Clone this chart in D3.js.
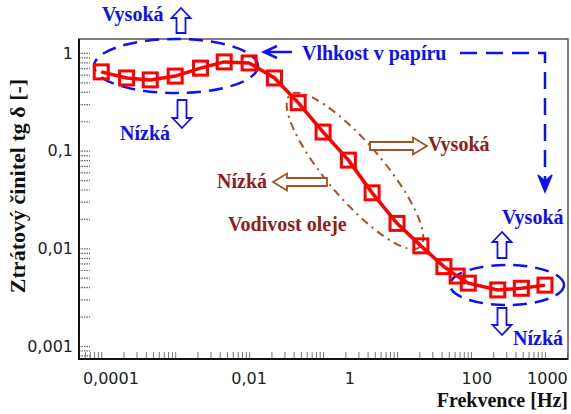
<!DOCTYPE html>
<html>
<head>
<meta charset="utf-8">
<script src="https://cdn.jsdelivr.net/npm/d3@7"></script>
<style>
  body { margin: 0; background: #fff; }
  svg { display: block; }
  .note { font-family: "Liberation Serif", "Times New Roman", serif; font-weight: bold; font-size: 20px; }
  .tick-label { font-family: "DejaVu Sans", Verdana, sans-serif; font-size: 16px; fill: #222; }
</style>
</head>
<body>
<div id="chart"></div>
<script>
// ---------------------------------------------------------------------------
// Data

// measured frequencies [Hz]
const frequency = [0.001, 0.0022, 0.0046, 0.01, 0.022, 0.046, 0.1, 0.22, 0.46, 1,
  2.2, 4.6, 10, 21, 43, 65, 92, 230, 480, 1000];

// dissipation factor tg delta [-]
const tanDelta = [0.64, 0.555, 0.53, 0.58, 0.70, 0.81, 0.79, 0.555, 0.31, 0.155,
  0.080, 0.037, 0.018, 0.0106, 0.0065, 0.0052, 0.0044, 0.00375, 0.0039, 0.0042];

// x labels as printed in the original; they do not sit on their own decade,
// so each one is anchored at the frequency it is printed under
const xTickLabels = ['0,0001', '0,01', '1', '100', '1000'];
const xTickLabelAt = [0.00135, 0.1, 2.3, 120, 1080];

const yTickValues = [1, 0.1, 0.01, 0.001];
const yTickLabels = ['1', '0,1', '0,01', '0,001'];

// ---------------------------------------------------------------------------
// Layout

const width = 571;
const height = 414;
const plot = { left: 79, right: 568, top: 39, bottom: 359 };

const blue = '#1010f5';
const brown = '#a2531f';
const darkRed = '#921c1c';

const svg = d3.select('#chart').append('svg')
  .attr('width', width)
  .attr('height', height);

const x = d3.scaleLog()
  .domain([0.0005, 2050])
  .range([plot.left, plot.right]);

const y = d3.scaleLog()
  .domain([0.000736, 1.39])
  .range([plot.bottom, plot.top]);

// ---------------------------------------------------------------------------
// Axes

// minor ticks along the bottom, pointing into the plot
svg.append('g')
  .attr('transform', `translate(0,${plot.bottom})`)
  .call(d3.axisBottom(x).tickValues(x.ticks()).tickSize(-7).tickSizeOuter(0).tickFormat(''))
  .call(g => g.select('.domain').remove())
  .call(g => g.selectAll('.tick line').attr('stroke', '#777').attr('stroke-width', 1));

// dotted ticks along the left side
svg.append('g')
  .attr('transform', `translate(${plot.left},0)`)
  .call(d3.axisLeft(y).tickValues(y.ticks()).tickSize(-11).tickSizeOuter(0).tickFormat(''))
  .call(g => g.select('.domain').remove())
  .call(g => g.selectAll('.tick line')
    .attr('stroke', '#666')
    .attr('stroke-width', 1.2)
    .attr('stroke-dasharray', '1.5,1'));

// y labels
svg.append('g')
  .attr('transform', `translate(${plot.left},0)`)
  .call(d3.axisLeft(y).tickValues(yTickValues).tickSize(0).tickPadding(6)
    .tickFormat((d, i) => yTickLabels[i]))
  .call(g => g.select('.domain').remove())
  .call(g => g.selectAll('text')
    .attr('class', 'tick-label')
    .attr('font-size', null)
    .attr('font-family', null));

// x labels
svg.append('g')
  .selectAll('text')
  .data(xTickLabels)
  .enter().append('text')
  .attr('class', 'tick-label')
  .attr('x', (d, i) => x(xTickLabelAt[i]))
  .attr('y', 384)
  .attr('text-anchor', 'middle')
  .text(d => d);

// frame
svg.append('rect')
  .attr('x', plot.left)
  .attr('y', plot.top)
  .attr('width', plot.right - plot.left)
  .attr('height', plot.bottom - plot.top)
  .attr('fill', 'none')
  .attr('stroke', '#555')
  .attr('stroke-width', 1.5);

svg.append('path')
  .attr('d', `M${plot.left},${plot.top}V${plot.bottom}H${plot.right}`)
  .attr('fill', 'none')
  .attr('stroke', '#111')
  .attr('stroke-width', 2);

// axis titles
svg.append('text')
  .attr('class', 'note')
  .attr('x', plot.right)
  .attr('y', 407)
  .attr('text-anchor', 'end')
  .attr('fill', '#111')
  .text('Frekvence [Hz]');

svg.append('text')
  .attr('class', 'note')
  .attr('transform', 'translate(25,186) rotate(-90)')
  .attr('text-anchor', 'middle')
  .attr('fill', '#111')
  .style('font-size', '22px')
  .text('Ztrátový činitel tg δ [-]');

// ---------------------------------------------------------------------------
// Annotations (drawn under the series)

const notes = svg.append('g');

// hollow block arrow, tip at (tx, ty), angle in degrees (0 = pointing right)
function blockArrow(tx, ty, angle, len, headLen, headHalf, shaftHalf, color) {
  const pts = [[0, 0], [-headLen, -headHalf], [-headLen, -shaftHalf], [-len, -shaftHalf],
    [-len, shaftHalf], [-headLen, shaftHalf], [-headLen, headHalf]];
  notes.append('path')
    .attr('d', `M${pts.join('L')}Z`)
    .attr('transform', `translate(${tx},${ty}) rotate(${angle})`)
    .attr('fill', '#fff')
    .attr('stroke', color)
    .attr('stroke-width', 1.8)
    .attr('stroke-linejoin', 'miter');
}

function note(text, tx, ty, color) {
  notes.append('text')
    .attr('class', 'note')
    .attr('x', tx)
    .attr('y', ty)
    .attr('fill', color)
    .text(text);
}

// moisture: low-frequency region
notes.append('ellipse')
  .attr('cx', 176).attr('cy', 66).attr('rx', 82).attr('ry', 27)
  .attr('fill', 'none')
  .attr('stroke', blue)
  .attr('stroke-width', 2.5)
  .attr('stroke-dasharray', '14,8');

note('Vysoká', 102, 21, blue);
blockArrow(181, 8, -90, 25, 10, 9.5, 4.5, blue);
note('Nízká', 120, 140, blue);
blockArrow(182, 128, 90, 28, 10, 9.5, 4.5, blue);

// moisture: high-frequency region
notes.append('ellipse')
  .attr('cx', 507).attr('cy', 285).attr('rx', 57).attr('ry', 20)
  .attr('fill', 'none')
  .attr('stroke', blue)
  .attr('stroke-width', 2.5)
  .attr('stroke-dasharray', '14,8');

note('Vysoká', 502, 224, blue);
blockArrow(502, 232, -90, 26, 10, 9.5, 4.5, blue);
note('Nízká', 513, 345, blue);
blockArrow(502, 335, 90, 27, 10, 9.5, 4.5, blue);

// moisture label with its two pointers
note('Vlhkost v papíru', 302, 60, blue);

notes.append('path')
  .attr('d', 'M292,52H264M277,46L264,52L277,58')
  .attr('fill', 'none')
  .attr('stroke', blue)
  .attr('stroke-width', 2.5);

notes.append('path')
  .attr('d', 'M460,53H545V182')
  .attr('fill', 'none')
  .attr('stroke', blue)
  .attr('stroke-width', 2.5)
  .attr('stroke-dasharray', '17,9');

notes.append('path')
  .attr('d', 'M538,175L545,192L552,175L545,181Z')
  .attr('fill', blue)
  .attr('stroke', blue)
  .attr('stroke-width', 1.5);

// oil conductivity
notes.append('ellipse')
  .attr('cx', 0).attr('cy', 0).attr('rx', 100).attr('ry', 28)
  .attr('transform', 'translate(355,171) rotate(49.5)')
  .attr('fill', 'none')
  .attr('stroke', brown)
  .attr('stroke-width', 2)
  .attr('stroke-dasharray', '8,5,2,5');

blockArrow(427, 146, 0, 57, 14, 8.5, 4, brown);
note('Vysoká', 428, 151, darkRed);
blockArrow(273, 182, 180, 54, 14, 8.5, 4, brown);
note('Nízká', 217, 188, darkRed);
note('Vodivost oleje', 228, 231, darkRed);

// ---------------------------------------------------------------------------
// Series

const points = frequency.map((f, i) => ({ f: f, v: tanDelta[i] }));

const line = d3.line()
  .x(d => x(d.f))
  .y(d => y(d.v));

svg.append('path')
  .datum(points)
  .attr('d', line)
  .attr('fill', 'none')
  .attr('stroke', '#ff0000')
  .attr('stroke-width', 3.5);

const side = 14;
svg.append('g')
  .selectAll('rect')
  .data(points)
  .enter().append('rect')
  .attr('x', d => x(d.f) - side / 2)
  .attr('y', d => y(d.v) - side / 2)
  .attr('width', side)
  .attr('height', side)
  .attr('fill', 'none')
  .attr('stroke', '#ff0000')
  .attr('stroke-width', 3);
</script>
</body>
</html>
